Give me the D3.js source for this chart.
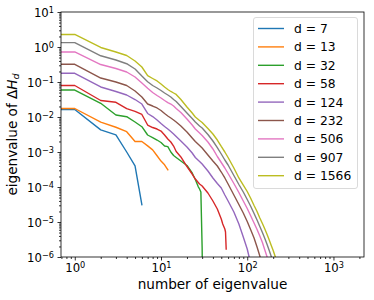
<!DOCTYPE html>
<html>
<head>
<meta charset="utf-8">
<script src="https://cdn.jsdelivr.net/npm/d3@7"></script>
<style>
body { margin: 0; background: #fff; }
svg text { font-family: 'DejaVu Sans', sans-serif; fill: #000; }
</style>
</head>
<body>
<div id="visual"></div>
<script>
// dimensions d of each run, and the plotted eigenvalue spectra as [rank, eigenvalue]
var dims = [7, 13, 32, 58, 124, 232, 506, 907, 1566];
var colours = ['#1f77b4', '#ff7f0e', '#2ca02c', '#d62728', '#9467bd', '#8c564b', '#e377c2', '#7f7f7f', '#bcbd22'];

var eig_d7 = [[0, 0.0164], [1, 0.0164], [2, 0.0043], [3, 0.0031], [4, 0.0010], [5, 4.0e-4], [6, 3.1e-5]];

var eig_d13 = [[0, 0.0175], [1, 0.0175], [2, 0.0071], [3, 0.0051], [4, 0.0038], [5, 0.0020], [6, 0.0020],
    [7, 0.0015], [8, 0.00115], [9, 7.8e-4], [10, 5.5e-4], [11, 4.3e-4], [12, 3.1e-4]];

var eig_d32 = [[0, 0.059], [1, 0.059], [2, 0.0246], [3, 0.0114], [4, 0.0102], [5, 0.0072], [6, 0.00528],
    [7, 0.00306], [8, 0.00259], [9, 0.0022], [10, 0.00187], [11, 0.00148], [12, 0.00142], [13, 0.0010],
    [14, 7.94e-4], [15, 6.97e-4], [17, 5.53e-4], [20, 4.11e-4], [23, 2.51e-4], [25, 1.64e-4], [27, 1.03e-4],
    [28, 8.77e-5], [29, 7.2e-5], [30, 1.81e-6], [31, 1e-9]];

var eig_d58 = [[0, 0.0794], [1, 0.0794], [2, 0.0296], [3, 0.0263], [4, 0.0173], [5, 0.0144], [6, 0.0118],
    [7, 0.0059], [8, 0.00501], [9, 0.00454], [10, 0.00398], [11, 0.00306], [12, 0.00235], [13, 0.00193],
    [14, 0.00148], [15, 0.00103], [17, 7.2e-4], [20, 3.85e-4], [23, 2.35e-4], [25, 1.69e-4], [28, 1.22e-4],
    [30, 1.07e-4], [35, 6.74e-5], [40, 3.98e-5], [45, 2.35e-5], [50, 1.22e-5], [52, 8.77e-6], [55, 6.31e-6],
    [56, 5.18e-6], [57, 1.69e-6]];

var eig_d124 = [[0, 0.177], [1, 0.177], [2, 0.072], [3, 0.0536], [4, 0.0425], [5, 0.0316], [6, 0.0235],
    [7, 0.0126], [8, 0.0103], [9, 0.0082], [10, 0.00652], [11, 0.00536], [12, 0.00454], [13, 0.00385],
    [14, 0.00327], [15, 0.00277], [17, 0.00206], [20, 0.00139], [23, 9.36e-4], [25, 6.97e-4], [28, 5.36e-4],
    [30, 4.54e-4], [35, 2.86e-4], [40, 1.81e-4], [45, 1.26e-4], [50, 9.36e-5], [55, 5.9e-5], [60, 3.98e-5],
    [70, 1.93e-5], [80, 8.77e-6], [90, 3.72e-6], [100, 1.69e-6], [110, 6.3e-7]];

var eig_d232 = [[0, 0.321], [1, 0.321], [2, 0.130], [3, 0.100], [4, 0.0794], [5, 0.0553], [6, 0.0373],
    [7, 0.0235], [8, 0.0206], [9, 0.0181], [10, 0.0153], [11, 0.0126], [12, 0.0107], [13, 0.00936],
    [14, 0.0082], [15, 0.0072], [17, 0.00553], [20, 0.00373], [23, 0.00251], [25, 0.0020], [28, 0.00153],
    [30, 0.0013], [35, 8.2e-4], [40, 5.53e-4], [45, 3.98e-4], [50, 2.68e-4], [55, 1.81e-4], [60, 1.22e-4],
    [70, 5.9e-5], [80, 3.16e-5], [90, 1.81e-5], [100, 1.03e-5], [110, 5.9e-6], [120, 3.49e-6], [130, 1.93e-6],
    [140, 1.07e-6], [150, 5.53e-7]];

var eig_d506 = [[0, 0.72], [1, 0.72], [2, 0.316], [3, 0.243], [4, 0.193], [5, 0.139], [6, 0.0936],
    [7, 0.0661], [8, 0.0501], [9, 0.0411], [10, 0.0349], [11, 0.0296], [12, 0.0259], [13, 0.0235],
    [14, 0.0206], [15, 0.0175], [17, 0.0134], [20, 0.00877], [23, 0.0059], [25, 0.00454], [28, 0.00349],
    [30, 0.00296], [35, 0.00193], [40, 0.00122], [45, 7.44e-4], [50, 5.01e-4], [55, 3.49e-4], [60, 2.43e-4],
    [70, 1.26e-4], [80, 6.97e-5], [90, 3.98e-5], [100, 2.43e-5], [110, 1.48e-5], [120, 9.36e-6], [130, 6.1e-6],
    [140, 3.98e-6], [150, 2.6e-6], [160, 1.58e-6], [170, 1.0e-6], [180, 6.3e-7]];

var eig_d907 = [[0, 1.33], [1, 1.33], [2, 0.561], [3, 0.425], [4, 0.333], [5, 0.235], [6, 0.148],
    [7, 0.102], [8, 0.0794], [9, 0.0674], [10, 0.0572], [11, 0.0485], [12, 0.0425], [13, 0.0373],
    [14, 0.0316], [15, 0.0277], [17, 0.0200], [20, 0.0130], [23, 0.00906], [25, 0.0072], [28, 0.00553],
    [30, 0.00485], [35, 0.00316], [40, 0.00206], [45, 0.00134], [50, 8.77e-4], [55, 5.91e-4], [60, 4.25e-4],
    [70, 2.13e-4], [80, 1.18e-4], [90, 7.2e-5], [100, 4.4e-5], [110, 2.77e-5], [120, 1.75e-5], [130, 1.14e-5],
    [140, 7.44e-6], [150, 5.01e-6], [160, 3.38e-6], [170, 2.28e-6], [180, 1.53e-6], [190, 1.03e-6],
    [200, 7.2e-7], [210, 4.85e-7]];

var eig_d1566 = [[0, 2.28], [1, 2.28], [2, 0.968], [3, 0.72], [4, 0.572], [5, 0.398], [6, 0.268],
    [7, 0.153], [8, 0.126], [9, 0.107], [10, 0.0877], [11, 0.072], [12, 0.0611], [13, 0.0536],
    [14, 0.0485], [15, 0.044], [17, 0.0316], [20, 0.0193], [23, 0.013], [25, 0.010], [28, 0.00794],
    [30, 0.00697], [35, 0.00469], [40, 0.00327], [45, 0.0022], [50, 0.00144], [55, 0.0010], [60, 6.97e-4],
    [70, 3.49e-4], [80, 1.81e-4], [90, 1.14e-4], [100, 7.44e-5], [110, 4.69e-5], [120, 2.96e-5], [130, 2.0e-5],
    [140, 1.3e-5], [150, 9.06e-6], [160, 6.31e-6], [170, 4.4e-6], [180, 3.06e-6], [190, 2.13e-6],
    [200, 1.53e-6], [210, 1.07e-6], [220, 7.69e-7], [230, 4.85e-7]];

var series = [eig_d7, eig_d13, eig_d32, eig_d58, eig_d124, eig_d232, eig_d506, eig_d907, eig_d1566];

var xTicks = [1, 10, 100, 1000];
var yTicks = [1e-6, 1e-5, 1e-4, 1e-3, 1e-2, 1e-1, 1, 10];

var width = 374, height = 300;
var margin = { top: 12, right: 10, bottom: 43, left: 61 };
var plotW = width - margin.left - margin.right;
var plotH = height - margin.top - margin.bottom;

var svg = d3.select('#visual')
    .append('svg')
    .attr('width', width)
    .attr('height', height)
    .style('background', '#fff');

var g = svg.append('g')
    .attr('transform', 'translate(' + margin.left + ',' + margin.top + ')');

// x limits like matplotlib autoscale: ranks 1 .. max(d)-1 with 5% log margin
var lo = 0, hi = Math.log10(d3.max(dims) - 1);
var pad = 0.05 * (hi - lo);
var x_scale = d3.scaleLog()
    .domain([Math.pow(10, lo - pad), Math.pow(10, hi + pad)])
    .range([0, plotW]);

var y_scale = d3.scaleLog()
    .domain([1e-6, 10])
    .range([plotH, 0]);

function minorTicks(scale) {
    var d = scale.domain(), out = [];
    for (var e = Math.floor(Math.log10(d[0])); e <= Math.ceil(Math.log10(d[1])); e++) {
        for (var k = 2; k <= 9; k++) {
            var v = k * Math.pow(10, e);
            if (v >= d[0] && v <= d[1]) out.push(v);
        }
    }
    return out;
}

function powLabel(sel) {
    sel.each(function (d) {
        var t = d3.select(this);
        var e = Math.round(Math.log10(d));
        t.text(null);
        t.append('tspan').text('10');
        t.append('tspan')
            .attr('dy', '-0.48em')
            .attr('font-size', '0.7em')
            .text(e < 0 ? '\u2212' + (-e) : String(e));
    });
}

// minor ticks
g.append('g')
    .attr('transform', 'translate(0,' + plotH + ')')
    .call(d3.axisBottom(x_scale).tickValues(minorTicks(x_scale)).tickSize(2).tickFormat(''));
g.append('g')
    .call(d3.axisLeft(y_scale).tickValues(minorTicks(y_scale)).tickSize(2).tickFormat(''));

// major ticks
var xAxis = g.append('g')
    .attr('class', 'x axis')
    .attr('transform', 'translate(0,' + plotH + ')')
    .call(d3.axisBottom(x_scale).tickValues(xTicks).tickSize(3.5).tickPadding(3.5));
xAxis.selectAll('.tick text').attr('dy', '0.71em').call(powLabel);

var yAxis = g.append('g')
    .attr('class', 'y axis')
    .call(d3.axisLeft(y_scale).tickValues(yTicks).tickSize(3.5).tickPadding(3.5));
yAxis.selectAll('.tick text').attr('dy', '0.36em').call(powLabel);

g.selectAll('.domain').remove();
g.selectAll('.tick line').attr('stroke', '#000').attr('stroke-width', 0.8);
g.selectAll('.tick text').attr('font-size', '11.7px').attr('font-family', "'DejaVu Sans', sans-serif");

// lines
g.append('clipPath').attr('id', 'clip')
    .append('rect').attr('width', plotW).attr('height', plotH);

var xMin = x_scale.domain()[0];
var line = d3.line()
    .x(function (d) { return x_scale(Math.max(d[0], xMin)); })
    .y(function (d) { return y_scale(d[1]); });

g.append('g')
    .attr('clip-path', 'url(#clip)')
    .selectAll('path')
    .data(series)
    .enter().append('path')
    .attr('d', line)
    .attr('fill', 'none')
    .attr('stroke', function (d, i) { return colours[i]; })
    .attr('stroke-width', 1.4)
    .attr('stroke-linejoin', 'round')
    .attr('stroke-linecap', 'square');

// frame
g.append('rect')
    .attr('width', plotW)
    .attr('height', plotH)
    .attr('fill', 'none')
    .attr('stroke', '#000')
    .attr('stroke-width', 0.8);

// axis labels
svg.append('text')
    .attr('x', margin.left + plotW / 2)
    .attr('y', 289)
    .attr('text-anchor', 'middle')
    .attr('font-size', '13.6px')
    .text('number of eigenvalue');

var yl = svg.append('text')
    .attr('transform', 'translate(17,' + (margin.top + plotH / 2) + ') rotate(-90)')
    .attr('text-anchor', 'middle')
    .attr('font-size', '13.6px');
yl.append('tspan').text('eigenvalue of \u0394');
yl.append('tspan').attr('font-style', 'italic').text('H');
yl.append('tspan').attr('font-style', 'italic').attr('font-size', '0.7em').attr('dy', '0.25em').text('d');

// legend
var legend = svg.append('g')
    .attr('transform', 'translate(253.5,17.5)');

legend.append('rect')
    .attr('width', 104)
    .attr('height', 171)
    .attr('rx', 2.5)
    .attr('fill', '#fff')
    .attr('fill-opacity', 0.8)
    .attr('stroke', '#d0d0d0')
    .attr('stroke-width', 0.8);

var items = legend.selectAll('.item')
    .data(dims)
    .enter().append('g')
    .attr('class', 'item')
    .attr('transform', function (d, i) { return 'translate(0,' + (11 + i * 18.4) + ')'; });

items.append('line')
    .attr('x1', 4.5).attr('x2', 30.5)
    .attr('stroke', function (d, i) { return colours[i]; })
    .attr('stroke-width', 1.4);

items.append('text')
    .attr('x', 40.5)
    .attr('dy', '0.36em')
    .attr('font-size', '12.3px')
    .text(function (d) { return 'd = ' + d; });
</script>
</body>
</html>
